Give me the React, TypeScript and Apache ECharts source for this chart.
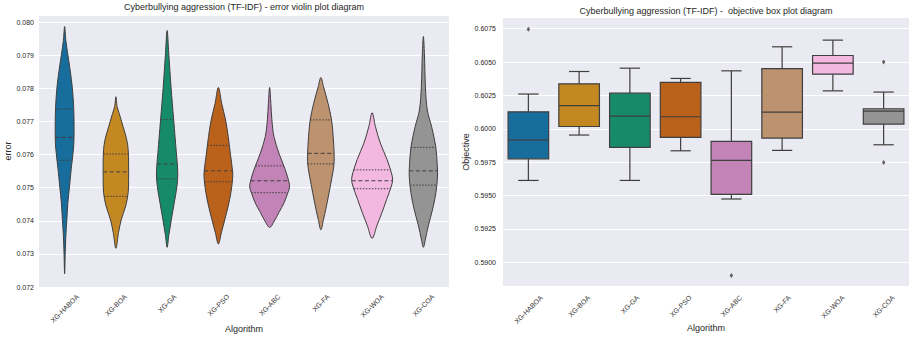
import React, { useEffect, useRef } from "react";
import * as echarts from "echarts";

const algorithms = ["XG-HABOA", "XG-BOA", "XG-GA", "XG-PSO", "XG-ABC", "XG-FA", "XG-WOA", "XG-COA"];
const palette = ["#176d9c", "#c48823", "#168b6a", "#ba611b", "#c283b6", "#bd926e", "#f2b8e0", "#949494"];

const errorTicks = [0.072, 0.08022, 0.001];
const objectiveTicks = [0.58817, 0.60835, 0.0025];

// violin outlines: [error value, relative half-width]
const violinHABOA = [[0.07987, 0], [0.07945, 0.06], [0.07905, 0.15], [0.07855, 0.27], [0.07805, 0.37], [0.07745, 0.44], [0.07685, 0.46], [0.07635, 0.45], [0.07605, 0.41], [0.07555, 0.32], [0.07505, 0.24], [0.07455, 0.16], [0.07405, 0.11], [0.07355, 0.06], [0.07305, 0.03], [0.0724, 0]];
const violinBOA = [[0.07775, 0], [0.07745, 0.06], [0.07725, 0.16], [0.07685, 0.35], [0.07645, 0.53], [0.07615, 0.6], [0.07575, 0.62], [0.07525, 0.62], [0.07485, 0.6], [0.07445, 0.48], [0.07405, 0.27], [0.07365, 0.13], [0.07317, 0]];
const violinGA = [[0.07975, 0], [0.07905, 0.08], [0.07805, 0.19], [0.07705, 0.32], [0.07605, 0.45], [0.07545, 0.52], [0.07505, 0.48], [0.07455, 0.35], [0.07405, 0.21], [0.07355, 0.08], [0.0732, 0]];
const violinPSO = [[0.07803, 0], [0.07755, 0.16], [0.07705, 0.35], [0.07655, 0.48], [0.07605, 0.58], [0.07545, 0.7], [0.07525, 0.69], [0.07485, 0.61], [0.07445, 0.48], [0.07405, 0.32], [0.07365, 0.15], [0.0733, 0]];
const violinABC = [[0.07803, 0], [0.07755, 0.06], [0.07705, 0.11], [0.07655, 0.21], [0.07605, 0.45], [0.07555, 0.76], [0.07515, 0.95], [0.075, 0.97], [0.07485, 0.89], [0.07455, 0.71], [0.07425, 0.45], [0.07395, 0.19], [0.0738, 0]];
const violinFA = [[0.07833, 0], [0.07805, 0.13], [0.07755, 0.35], [0.07705, 0.52], [0.07655, 0.6], [0.07595, 0.65], [0.07565, 0.63], [0.07535, 0.55], [0.07485, 0.4], [0.07435, 0.24], [0.07405, 0.13], [0.07373, 0]];
const violinWOA = [[0.07727, 0], [0.07685, 0.16], [0.07635, 0.4], [0.07585, 0.73], [0.07545, 0.94], [0.07525, 1.0], [0.07505, 0.94], [0.07465, 0.71], [0.07425, 0.48], [0.07385, 0.23], [0.07347, 0]];
const violinCOA = [[0.07957, 0], [0.07905, 0.05], [0.07805, 0.1], [0.07735, 0.19], [0.07685, 0.4], [0.07625, 0.6], [0.07565, 0.68], [0.07535, 0.69], [0.07485, 0.61], [0.07435, 0.45], [0.07385, 0.24], [0.07345, 0.1], [0.0732, 0]];
const violinProfiles = [violinHABOA, violinBOA, violinGA, violinPSO, violinABC, violinFA, violinWOA, violinCOA];

// [upper quartile, median, lower quartile]
const violinQuartiles = [
  [0.07738, 0.07652, 0.07583],
  [0.07602, 0.07548, 0.07474],
  [0.07706, 0.07572, 0.07527],
  [0.07628, 0.07551, 0.07518],
  [0.07566, 0.07521, 0.07485],
  [0.07705, 0.07604, 0.07572],
  [0.07554, 0.07521, 0.07497],
  [0.07622, 0.07551, 0.07508],
];

// [min whisker, Q1, median, Q3, max whisker]
const boxStats = [
  [0.59613, 0.59775, 0.59915, 0.60127, 0.6026],
  [0.59953, 0.60017, 0.60174, 0.60337, 0.60429],
  [0.59613, 0.5986, 0.60095, 0.60267, 0.60454],
  [0.59835, 0.59935, 0.6009, 0.60347, 0.60377],
  [0.59474, 0.59508, 0.59763, 0.59905, 0.60434],
  [0.59838, 0.5993, 0.60125, 0.60451, 0.60614],
  [0.60284, 0.60409, 0.60492, 0.60549, 0.60664],
  [0.5988, 0.60035, 0.60132, 0.6015, 0.60275],
];
const boxOutliers = [[0, 0.60745], [4, 0.589], [7, 0.605], [7, 0.59748]];

const FONT = "'Liberation Sans', Arial, sans-serif";
const LINE = "#3f3f3f";
const TEXT = "#262626";

function widthAt(profile: number[][], v: number): number {
  for (let k = 0; k < profile.length - 1; k++) {
    const [v0, d0] = profile[k];
    const [v1, d1] = profile[k + 1];
    if (v <= v0 && v >= v1) {
      const t = (v0 - v) / (v0 - v1);
      return d0 + (d1 - d0) * t;
    }
  }
  return 0;
}

export default function App() {
  const ref = useRef<HTMLDivElement>(null);

  useEffect(() => {
    if (!ref.current) return;
    const chart = echarts.init(ref.current, null, { renderer: "svg" });

    const violinRender = (params: any, api: any) => {
      const i = api.value(0) as number;
      const prof = violinProfiles[i];
      const band = api.size([1, 0])[0];
      const half = band * 0.4;
      const cx = api.coord([i, prof[0][0]])[0];
      const right = prof.map(([v, d]) => [cx + d * half, api.coord([i, v])[1]]);
      const left = prof
        .slice(1, -1)
        .reverse()
        .map(([v, d]) => [cx - d * half, api.coord([i, v])[1]]);
      const children: any[] = [
        {
          type: "polygon",
          shape: { points: [...right, ...left], smooth: 0.35 },
          style: { fill: palette[i], stroke: LINE, lineWidth: 1 },
        },
      ];
      violinQuartiles[i].forEach((q, k) => {
        const w = widthAt(prof, q) * half;
        const y = api.coord([i, q])[1];
        children.push({
          type: "line",
          shape: { x1: cx - w, y1: y, x2: cx + w, y2: y },
          style: {
            stroke: LINE,
            lineWidth: 1,
            lineDash: k === 1 ? [4, 2.5] : [1.5, 1.5],
          },
        });
      });
      return { type: "group", children };
    };

    const boxRender = (params: any, api: any) => {
      const i = api.value(0) as number;
      const band = api.size([1, 0])[0];
      const bw = band * 0.8;
      const cw = band * 0.4;
      const cx = api.coord([i, api.value(1)])[0];
      const y = [1, 2, 3, 4, 5].map((d) => api.coord([i, api.value(d)])[1]);
      const [yMin, yQ1, yMed, yQ3, yMax] = y;
      const ls = { stroke: LINE, lineWidth: 1.2 };
      return {
        type: "group",
        children: [
          { type: "line", shape: { x1: cx, y1: yQ3, x2: cx, y2: yMax }, style: ls },
          { type: "line", shape: { x1: cx, y1: yQ1, x2: cx, y2: yMin }, style: ls },
          { type: "line", shape: { x1: cx - cw / 2, y1: yMax, x2: cx + cw / 2, y2: yMax }, style: ls },
          { type: "line", shape: { x1: cx - cw / 2, y1: yMin, x2: cx + cw / 2, y2: yMin }, style: ls },
          {
            type: "rect",
            shape: { x: cx - bw / 2, y: yQ3, width: bw, height: yQ1 - yQ3 },
            style: { fill: palette[i], stroke: LINE, lineWidth: 1.2 },
          },
          { type: "line", shape: { x1: cx - bw / 2, y1: yMed, x2: cx + bw / 2, y2: yMed }, style: ls },
        ],
      };
    };

    const yAxisCommon = {
      type: "value",
      axisLine: { show: false },
      axisTick: { show: false },
      splitLine: { show: true, lineStyle: { color: "#ffffff", width: 1 } },
      nameLocation: "middle",
      nameTextStyle: { fontSize: 9, color: TEXT, fontFamily: FONT },
    };

    const xAxisCommon = {
      type: "category",
      data: algorithms,
      axisLine: { show: false },
      axisTick: { show: false },
      axisLabel: { show: false },
      splitLine: { show: false },
      name: "Algorithm",
      nameLocation: "middle",
      nameGap: 37,
      nameTextStyle: { fontSize: 9, color: TEXT, fontFamily: FONT, verticalAlign: "top" },
    };

    chart.setOption({
      animation: false,
      textStyle: { fontFamily: FONT },
      title: [
        {
          text: "Cyberbullying aggression (TF-IDF) - error violin plot diagram",
          left: 244,
          top: 2,
          textAlign: "center",
          padding: 0,
          textStyle: { fontSize: 9, fontWeight: "normal", color: TEXT, fontFamily: FONT },
        },
        {
          text: "Cyberbullying aggression (TF-IDF) -  objective box plot diagram",
          left: 706,
          top: 6,
          textAlign: "center",
          padding: 0,
          textStyle: { fontSize: 9, fontWeight: "normal", color: TEXT, fontFamily: FONT },
        },
      ],
      grid: [
        { left: 39, top: 15, width: 410, height: 272, show: true, backgroundColor: "#eaeaf2", borderWidth: 0 },
        { left: 503, top: 17.3, width: 406, height: 269.4, show: true, backgroundColor: "#eaeaf2", borderWidth: 0 },
      ],
      xAxis: [
        { ...xAxisCommon, gridIndex: 0 },
        { ...xAxisCommon, gridIndex: 1 },
      ],
      yAxis: [
        {
          ...yAxisCommon,
          gridIndex: 0,
          min: errorTicks[0],
          max: errorTicks[1],
          interval: errorTicks[2],
          name: "error",
          nameGap: 24,
          axisLabel: {
            fontSize: 7,
            color: TEXT,
            margin: 5,
            showMaxLabel: false,
            formatter: (v: number) => v.toFixed(3),
          },
        },
        {
          ...yAxisCommon,
          gridIndex: 1,
          min: objectiveTicks[0],
          max: objectiveTicks[1],
          minInterval: objectiveTicks[2],
          maxInterval: objectiveTicks[2],
          name: "Objective",
          nameGap: 29,
          axisLabel: {
            fontSize: 7,
            color: TEXT,
            margin: 7,
            showMinLabel: false,
            showMaxLabel: false,
            formatter: (v: number) => v.toFixed(4),
          },
        },
      ],
      series: [
        {
          type: "custom",
          xAxisIndex: 0,
          yAxisIndex: 0,
          renderItem: violinRender,
          encode: { x: 0, y: 1 },
          data: violinQuartiles.map((q, i) => [i, q[1]]),
          z: 3,
        },
        {
          type: "custom",
          xAxisIndex: 1,
          yAxisIndex: 1,
          renderItem: boxRender,
          encode: { x: 0, y: [1, 2, 3, 4, 5] },
          data: boxStats.map((s, i) => [i, ...s]),
          z: 3,
        },
        {
          type: "scatter",
          xAxisIndex: 1,
          yAxisIndex: 1,
          symbol: "diamond",
          symbolSize: [3.5, 5],
          itemStyle: { color: "#3d3d3d" },
          data: boxOutliers,
          z: 4,
        },
      ],
    });

    // rotated category labels, centred under each tick (matplotlib style)
    const canvas = document.createElement("canvas");
    const ctx = canvas.getContext("2d");
    const fontSize = 7;
    if (ctx) ctx.font = `${fontSize}px 'Liberation Sans', Arial, sans-serif`;
    const c45 = Math.SQRT1_2;
    const graphics: any[] = [];
    [0, 1].forEach((g) => {
      const topY = g === 0 ? 293 : 294;
      algorithms.forEach((name, i) => {
        const tx = chart.convertToPixel({ xAxisIndex: g }, i) as unknown as number;
        const w = ctx ? ctx.measureText(name).width : name.length * 4;
        const h = fontSize;
        graphics.push({
          type: "text",
          x: tx + (c45 * (w - h)) / 2,
          y: topY,
          rotation: Math.PI / 4,
          style: {
            text: name,
            fontSize,
            fontFamily: FONT,
            fill: "#333333",
            textAlign: "right",
            textVerticalAlign: "top",
          },
        });
      });
    });
    chart.setOption({ graphic: graphics });

    return () => chart.dispose();
  }, []);

  return (
    <div
      ref={ref}
      style={{ position: "absolute", left: 0, top: 0, width: 910, height: 340 }}
    />
  );
}
